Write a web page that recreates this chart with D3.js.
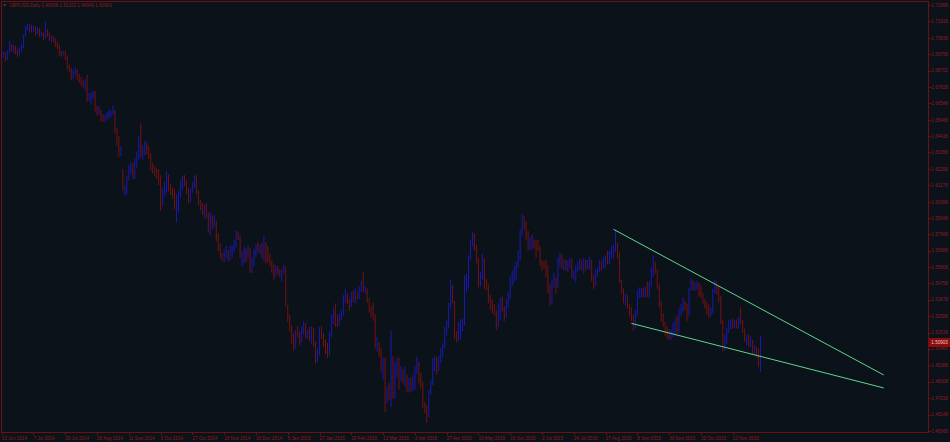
<!DOCTYPE html>
<html><head><meta charset="utf-8">
<script src="https://cdn.jsdelivr.net/npm/d3@7"></script>
<style>html,body{margin:0;padding:0;background:#0b121a;overflow:hidden}svg{display:block}</style>
</head><body>
<script>
// ---------- DATA (GBPUSD Daily, 13 Jun 2014 – 3 Dec 2015) ----------
const symbolTitle = "GBPUSD,Daily";
const legendValues = ["1.49598", "1.51322", "1.48946", "1.50903"];
const lastPrice = 1.50903;

const openP = [
1.6965,1.6970,1.6985,1.6960,1.6990,1.7035,1.7010,1.7020,1.6990,1.6985,
1.7010,1.7020,1.7100,1.7150,1.7160,1.7165,1.7150,1.7155,1.7130,1.7140,
1.7105,1.7110,1.7085,1.7120,1.7110,1.7080,1.7085,1.7065,1.7045,1.7030,
1.6980,1.6975,1.6990,1.6955,1.6895,1.6880,1.6830,1.6860,1.6875,1.6840,
1.6800,1.6780,1.6760,1.6795,1.6690,1.6695,1.6700,1.6725,1.6620,1.6600,
1.6605,1.6565,1.6555,1.6560,1.6585,1.6595,1.6600,1.6605,1.6480,1.6405,
1.6315,1.6200,1.6090,1.6105,1.6170,1.6240,1.6250,1.6215,1.6280,1.6300,
1.6400,1.6310,1.6350,1.6390,1.6350,1.6310,1.6235,1.6225,1.6210,1.6180,
1.6140,1.6050,1.6090,1.6120,1.6160,1.6105,1.6075,1.6070,1.5985,1.6010,
1.6070,1.6120,1.6160,1.6140,1.6075,1.6020,1.6085,1.6120,1.6165,1.6070,
1.6000,1.5995,1.5940,1.5980,1.5925,1.5840,1.5900,1.5860,1.5870,1.5765,
1.5710,1.5665,1.5640,1.5660,1.5680,1.5655,1.5660,1.5710,1.5745,1.5800,
1.5780,1.5645,1.5670,1.5690,1.5665,1.5700,1.5600,1.5630,1.5685,1.5720,
1.5705,1.5710,1.5665,1.5695,1.5690,1.5650,1.5610,1.5560,1.5530,1.5580,
1.5545,1.5530,1.5555,1.5580,1.5330,1.5250,1.5175,1.5105,1.5070,1.5150,
1.5140,1.5100,1.5180,1.5210,1.5140,1.5150,1.5120,1.5175,1.5075,1.4975,
1.5020,1.5175,1.5140,1.5075,1.5035,1.5025,1.5145,1.5245,1.5300,1.5240,
1.5220,1.5265,1.5280,1.5385,1.5390,1.5365,1.5350,1.5400,1.5395,1.5400,
1.5390,1.5445,1.5480,1.5435,1.5440,1.5370,1.5300,1.5270,1.5240,1.5065,
1.5070,1.5030,1.4915,1.4970,1.4725,1.4770,1.4760,1.4990,1.4740,1.4925,
1.4960,1.4850,1.4890,1.4870,1.4875,1.4790,1.4830,1.4785,1.4855,1.4900,
1.4950,1.4845,1.4820,1.4675,1.4635,1.4615,1.4765,1.4830,1.4950,1.4965,
1.4955,1.4970,1.5040,1.5060,1.5180,1.5205,1.5330,1.5370,1.5350,1.5145,
1.5120,1.5180,1.5190,1.5210,1.5460,1.5470,1.5645,1.5735,1.5750,1.5720,
1.5635,1.5470,1.5515,1.5630,1.5480,1.5460,1.5365,1.5330,1.5300,1.5285,
1.5200,1.5320,1.5345,1.5310,1.5290,1.5350,1.5395,1.5495,1.5530,1.5565,
1.5605,1.5670,1.5800,1.5875,1.5860,1.5790,1.5710,1.5740,1.5750,1.5740,
1.5735,1.5715,1.5610,1.5600,1.5595,1.5565,1.5430,1.5350,1.5475,1.5510,
1.5455,1.5615,1.5630,1.5600,1.5615,1.5585,1.5600,1.5605,1.5525,1.5530,
1.5580,1.5600,1.5620,1.5585,1.5610,1.5575,1.5600,1.5605,1.5500,1.5480,
1.5550,1.5560,1.5600,1.5585,1.5620,1.5640,1.5615,1.5665,1.5695,1.5700,
1.5720,1.5665,1.5490,1.5430,1.5360,1.5380,1.5325,1.5285,1.5250,1.5185,
1.5280,1.5400,1.5410,1.5425,1.5415,1.5435,1.5400,1.5475,1.5540,1.5610,
1.5560,1.5460,1.5345,1.5240,1.5210,1.5160,1.5130,1.5125,1.5160,1.5190,
1.5225,1.5160,1.5290,1.5310,1.5350,1.5330,1.5265,1.5435,1.5485,1.5450,
1.5465,1.5470,1.5420,1.5390,1.5355,1.5335,1.5300,1.5275,1.5290,1.5425,
1.5470,1.5430,1.5375,1.5230,1.5045,1.5120,1.5170,1.5200,1.5215,1.5205,
1.5215,1.5195,1.5245,1.5225,1.5170,1.5105,1.5120,1.5080,1.5095,1.5030,
1.5045,1.5020,1.4960];

const highP = [
1.6990,1.6995,1.6990,1.7005,1.7065,1.7045,1.7040,1.7035,1.7010,1.7020,
1.7040,1.7105,1.7160,1.7175,1.7180,1.7170,1.7165,1.7160,1.7155,1.7150,
1.7125,1.7120,1.7192,1.7140,1.7120,1.7100,1.7095,1.7080,1.7060,1.7040,
1.7000,1.7000,1.7000,1.6970,1.6910,1.6890,1.6875,1.6895,1.6880,1.6850,
1.6830,1.6805,1.6815,1.6842,1.6725,1.6725,1.6740,1.6735,1.6640,1.6635,
1.6615,1.6585,1.6580,1.6600,1.6615,1.6610,1.6640,1.6610,1.6495,1.6440,
1.6375,1.6225,1.6120,1.6180,1.6250,1.6270,1.6265,1.6295,1.6340,1.6440,
1.6525,1.6380,1.6410,1.6400,1.6375,1.6330,1.6265,1.6245,1.6230,1.6225,
1.6185,1.6100,1.6145,1.6210,1.6190,1.6130,1.6105,1.6095,1.6060,1.6080,
1.6150,1.6180,1.6185,1.6150,1.6100,1.6100,1.6140,1.6180,1.6190,1.6085,
1.6025,1.6005,1.5990,1.6000,1.5940,1.5945,1.5920,1.5925,1.5885,1.5805,
1.5735,1.5675,1.5700,1.5720,1.5695,1.5720,1.5725,1.5760,1.5825,1.5815,
1.5790,1.5690,1.5715,1.5705,1.5725,1.5710,1.5640,1.5700,1.5735,1.5745,
1.5730,1.5740,1.5785,1.5745,1.5720,1.5670,1.5630,1.5600,1.5595,1.5590,
1.5570,1.5565,1.5595,1.5585,1.5335,1.5270,1.5200,1.5150,1.5170,1.5195,
1.5160,1.5195,1.5230,1.5215,1.5170,1.5190,1.5195,1.5185,1.5095,1.5050,
1.5190,1.5195,1.5150,1.5110,1.5085,1.5160,1.5270,1.5320,1.5345,1.5270,
1.5280,1.5300,1.5400,1.5440,1.5410,1.5375,1.5420,1.5430,1.5445,1.5420,
1.5455,1.5495,1.5550,1.5460,1.5445,1.5380,1.5330,1.5350,1.5275,1.5125,
1.5090,1.5050,1.4990,1.4990,1.4800,1.4825,1.5165,1.5000,1.4965,1.4990,
1.4990,1.4935,1.4915,1.4930,1.4880,1.4855,1.4860,1.4875,1.4935,1.4995,
1.4960,1.4890,1.4835,1.4700,1.4680,1.4780,1.4845,1.4985,1.5000,1.4990,
1.5000,1.5050,1.5085,1.5190,1.5235,1.5350,1.5500,1.5465,1.5360,1.5165,
1.5225,1.5240,1.5250,1.5525,1.5540,1.5660,1.5760,1.5815,1.5805,1.5730,
1.5645,1.5550,1.5670,1.5640,1.5505,1.5470,1.5400,1.5370,1.5340,1.5300,
1.5345,1.5380,1.5390,1.5325,1.5370,1.5425,1.5520,1.5560,1.5590,1.5620,
1.5690,1.5830,1.5930,1.5915,1.5880,1.5820,1.5780,1.5795,1.5765,1.5760,
1.5760,1.5720,1.5630,1.5620,1.5630,1.5595,1.5470,1.5500,1.5545,1.5515,
1.5645,1.5675,1.5665,1.5635,1.5630,1.5625,1.5645,1.5640,1.5560,1.5595,
1.5620,1.5640,1.5630,1.5640,1.5630,1.5630,1.5650,1.5630,1.5530,1.5565,
1.5580,1.5630,1.5625,1.5650,1.5660,1.5690,1.5690,1.5720,1.5730,1.5830,
1.5740,1.5680,1.5500,1.5445,1.5410,1.5400,1.5340,1.5320,1.5270,1.5300,
1.5430,1.5450,1.5445,1.5450,1.5455,1.5490,1.5490,1.5580,1.5659,1.5615,
1.5570,1.5470,1.5360,1.5280,1.5225,1.5195,1.5175,1.5175,1.5220,1.5245,
1.5265,1.5310,1.5340,1.5385,1.5360,1.5345,1.5445,1.5508,1.5495,1.5485,
1.5490,1.5480,1.5465,1.5415,1.5375,1.5355,1.5335,1.5315,1.5440,1.5500,
1.5490,1.5460,1.5395,1.5240,1.5140,1.5185,1.5235,1.5235,1.5245,1.5235,
1.5240,1.5260,1.5320,1.5235,1.5180,1.5140,1.5140,1.5130,1.5105,1.5070,
1.5060,1.5050,1.5132];

const lowP = [
1.6925,1.6955,1.6930,1.6940,1.6985,1.6995,1.6985,1.6975,1.6960,1.6970,
1.6995,1.7015,1.7095,1.7135,1.7120,1.7120,1.7125,1.7100,1.7110,1.7090,
1.7095,1.7070,1.7080,1.7090,1.7065,1.7055,1.7055,1.7025,1.7010,1.6965,
1.6960,1.6970,1.6940,1.6880,1.6860,1.6810,1.6815,1.6835,1.6810,1.6790,
1.6770,1.6755,1.6740,1.6665,1.6670,1.6645,1.6685,1.6600,1.6575,1.6580,
1.6535,1.6535,1.6535,1.6545,1.6555,1.6565,1.6580,1.6460,1.6380,1.6305,
1.6310,1.6085,1.6050,1.6060,1.6150,1.6190,1.6160,1.6160,1.6235,1.6285,
1.6300,1.6285,1.6315,1.6320,1.6290,1.6215,1.6195,1.6180,1.6160,1.6120,
1.5950,1.5985,1.6045,1.6070,1.6080,1.6055,1.6030,1.5960,1.5875,1.5945,
1.6035,1.6090,1.6115,1.6060,1.6000,1.6010,1.6070,1.6100,1.6060,1.5990,
1.5955,1.5925,1.5900,1.5905,1.5810,1.5790,1.5830,1.5845,1.5750,1.5690,
1.5640,1.5620,1.5615,1.5640,1.5620,1.5625,1.5645,1.5680,1.5710,1.5760,
1.5640,1.5590,1.5610,1.5615,1.5640,1.5545,1.5545,1.5585,1.5650,1.5680,
1.5665,1.5640,1.5620,1.5605,1.5615,1.5590,1.5545,1.5500,1.5520,1.5535,
1.5515,1.5490,1.5540,1.5325,1.5225,1.5160,1.5080,1.5035,1.5050,1.5120,
1.5070,1.5090,1.5140,1.5115,1.5110,1.5100,1.5080,1.5060,1.4950,1.4960,
1.5005,1.5110,1.5060,1.5010,1.4985,1.5005,1.5125,1.5210,1.5190,1.5190,
1.5200,1.5235,1.5265,1.5350,1.5340,1.5295,1.5320,1.5355,1.5345,1.5370,
1.5375,1.5420,1.5420,1.5405,1.5350,1.5285,1.5255,1.5230,1.5050,1.5030,
1.4995,1.4900,1.4840,1.4633,1.4690,1.4710,1.4665,1.4720,1.4720,1.4860,
1.4780,1.4835,1.4820,1.4805,1.4765,1.4760,1.4765,1.4775,1.4775,1.4880,
1.4820,1.4785,1.4660,1.4625,1.4565,1.4600,1.4745,1.4810,1.4900,1.4875,
1.4900,1.4955,1.4990,1.5050,1.5135,1.5185,1.5310,1.5345,1.5110,1.5090,
1.5100,1.5110,1.5160,1.5200,1.5420,1.5440,1.5630,1.5715,1.5690,1.5605,
1.5450,1.5455,1.5500,1.5440,1.5430,1.5345,1.5300,1.5280,1.5265,1.5170,
1.5190,1.5240,1.5290,1.5230,1.5250,1.5315,1.5375,1.5460,1.5480,1.5500,
1.5580,1.5630,1.5790,1.5830,1.5760,1.5690,1.5690,1.5700,1.5705,1.5645,
1.5690,1.5590,1.5560,1.5570,1.5515,1.5410,1.5330,1.5340,1.5450,1.5405,
1.5445,1.5585,1.5570,1.5560,1.5560,1.5550,1.5580,1.5510,1.5500,1.5480,
1.5550,1.5565,1.5560,1.5540,1.5560,1.5570,1.5565,1.5490,1.5440,1.5460,
1.5520,1.5550,1.5560,1.5570,1.5580,1.5600,1.5600,1.5640,1.5640,1.5680,
1.5640,1.5480,1.5410,1.5345,1.5330,1.5310,1.5260,1.5230,1.5165,1.5180,
1.5260,1.5380,1.5380,1.5385,1.5385,1.5385,1.5380,1.5455,1.5520,1.5540,
1.5440,1.5320,1.5225,1.5190,1.5130,1.5110,1.5105,1.5107,1.5125,1.5140,
1.5140,1.5150,1.5265,1.5290,1.5300,1.5230,1.5260,1.5430,1.5430,1.5425,
1.5435,1.5390,1.5380,1.5340,1.5310,1.5270,1.5250,1.5260,1.5280,1.5410,
1.5400,1.5350,1.5210,1.5030,1.5035,1.5080,1.5150,1.5175,1.5180,1.5185,
1.5180,1.5180,1.5210,1.5150,1.5095,1.5070,1.5060,1.5060,1.5015,1.5010,
1.4990,1.4930,1.4895];

const closeP = [
1.6970,1.6985,1.6960,1.6990,1.7035,1.7010,1.7020,1.6990,1.6985,1.7010,
1.7020,1.7100,1.7150,1.7160,1.7165,1.7150,1.7155,1.7130,1.7140,1.7105,
1.7110,1.7085,1.7120,1.7110,1.7080,1.7085,1.7065,1.7045,1.7030,1.6980,
1.6975,1.6990,1.6955,1.6895,1.6880,1.6830,1.6860,1.6875,1.6840,1.6800,
1.6780,1.6760,1.6795,1.6690,1.6695,1.6700,1.6725,1.6620,1.6600,1.6605,
1.6565,1.6555,1.6560,1.6585,1.6595,1.6600,1.6605,1.6480,1.6405,1.6315,
1.6335,1.6090,1.6105,1.6170,1.6240,1.6250,1.6215,1.6280,1.6300,1.6400,
1.6310,1.6350,1.6390,1.6350,1.6310,1.6235,1.6225,1.6210,1.6180,1.6140,
1.6050,1.6090,1.6120,1.6160,1.6105,1.6075,1.6070,1.5985,1.6010,1.6070,
1.6120,1.6160,1.6140,1.6075,1.6020,1.6085,1.6120,1.6165,1.6070,1.6000,
1.5995,1.5940,1.5980,1.5925,1.5840,1.5900,1.5860,1.5870,1.5765,1.5710,
1.5665,1.5640,1.5660,1.5680,1.5655,1.5660,1.5710,1.5745,1.5800,1.5780,
1.5645,1.5670,1.5690,1.5665,1.5700,1.5600,1.5630,1.5685,1.5720,1.5705,
1.5710,1.5665,1.5695,1.5690,1.5650,1.5610,1.5560,1.5530,1.5580,1.5545,
1.5530,1.5555,1.5580,1.5330,1.5250,1.5175,1.5105,1.5070,1.5150,1.5140,
1.5100,1.5180,1.5210,1.5140,1.5150,1.5120,1.5175,1.5075,1.4975,1.5020,
1.5175,1.5140,1.5075,1.5035,1.5025,1.5145,1.5245,1.5300,1.5240,1.5220,
1.5265,1.5280,1.5385,1.5390,1.5365,1.5350,1.5400,1.5395,1.5400,1.5390,
1.5445,1.5480,1.5435,1.5440,1.5370,1.5300,1.5270,1.5240,1.5065,1.5070,
1.5030,1.4915,1.4970,1.4725,1.4770,1.4760,1.4990,1.4740,1.4925,1.4960,
1.4850,1.4890,1.4870,1.4875,1.4790,1.4830,1.4785,1.4855,1.4900,1.4950,
1.4845,1.4820,1.4675,1.4635,1.4615,1.4765,1.4830,1.4950,1.4965,1.4955,
1.4970,1.5040,1.5060,1.5180,1.5205,1.5330,1.5370,1.5350,1.5145,1.5120,
1.5180,1.5190,1.5210,1.5460,1.5470,1.5645,1.5735,1.5750,1.5720,1.5635,
1.5470,1.5515,1.5630,1.5480,1.5460,1.5365,1.5330,1.5300,1.5285,1.5200,
1.5320,1.5345,1.5310,1.5290,1.5350,1.5395,1.5495,1.5530,1.5565,1.5605,
1.5670,1.5800,1.5875,1.5860,1.5790,1.5710,1.5740,1.5750,1.5740,1.5735,
1.5715,1.5610,1.5600,1.5595,1.5565,1.5430,1.5350,1.5475,1.5510,1.5455,
1.5615,1.5630,1.5600,1.5615,1.5585,1.5600,1.5605,1.5525,1.5530,1.5580,
1.5600,1.5620,1.5585,1.5610,1.5575,1.5600,1.5605,1.5500,1.5480,1.5550,
1.5560,1.5600,1.5585,1.5620,1.5640,1.5615,1.5665,1.5695,1.5700,1.5720,
1.5665,1.5490,1.5430,1.5360,1.5380,1.5325,1.5285,1.5250,1.5185,1.5280,
1.5400,1.5410,1.5425,1.5415,1.5435,1.5400,1.5475,1.5540,1.5610,1.5560,
1.5460,1.5345,1.5240,1.5210,1.5160,1.5130,1.5125,1.5160,1.5190,1.5225,
1.5160,1.5290,1.5310,1.5350,1.5330,1.5265,1.5435,1.5485,1.5450,1.5465,
1.5470,1.5420,1.5390,1.5355,1.5335,1.5300,1.5275,1.5290,1.5425,1.5470,
1.5430,1.5375,1.5230,1.5045,1.5120,1.5170,1.5200,1.5215,1.5205,1.5215,
1.5195,1.5245,1.5225,1.5170,1.5105,1.5120,1.5080,1.5095,1.5030,1.5045,
1.5020,1.4960,1.5090];

// x-axis tick labels (bar index of each label)
const dateTickIndex = [0,16,32,48,64,80,96,112,128,144,160,176,192,208,224,240,256,272,288,304,320,336,352,368];
const dateTickLabels = ["13 Jun 2014","7 Jul 2014","29 Jul 2014","20 Aug 2014","11 Sep 2014","3 Oct 2014",
  "27 Oct 2014","18 Nov 2014","10 Dec 2014","5 Jan 2015","27 Jan 2015","18 Feb 2015","12 Mar 2015",
  "3 Apr 2015","27 Apr 2015","19 May 2015","10 Jun 2015","2 Jul 2015","24 Jul 2015","17 Aug 2015",
  "8 Sep 2015","30 Sep 2015","22 Oct 2015","13 Nov 2015"];

// y-axis tick labels
const priceTicks = [1.72998,1.71918,1.70838,1.69758,1.68702,1.67628,1.66548,1.65468,1.64418,
  1.63358,1.62258,1.61178,1.60098,1.59048,1.57968,1.56888,1.55808,1.54758,1.53678,1.52598,
  1.51518,1.50468,1.49388,1.48308,1.47218,1.46148,1.45068];

// hand-drawn trend lines: [bar index, price]
const upperTrend = [[308, 1.5830], [444, 1.4876]];
const lowerTrend = [[317, 1.5214], [444, 1.4791]];

// ---------- DRAWING ----------
const W = 950, H = 442;
const axisX = 928.5, axisY = 432.5;
const bg = "#0b121a", axisCol = "#6a1212", textCol = "#8e1c1c";
const bullCol = "#1a1ab0", bearCol = "#761212", trendCol = "#5ed68c";

const svg = d3.select("body").append("svg").attr("width", W).attr("height", H);
svg.append("rect").attr("width", W).attr("height", H).attr("fill", bg);

const x = d3.scaleLinear().domain([0, 368]).range([1.7, 732.7]);
const y = d3.scaleLinear().domain([priceTicks[priceTicks.length - 1], priceTicks[0]]).range([431.3, 5]);

const bars = d3.range(closeP.length).map(i => ({
  i, o: openP[i], h: highP[i], l: lowP[i], c: closeP[i]
}));

const plot = svg.append("g").attr("shape-rendering", "geometricPrecision");
const col = d => d.c >= d.o ? bullCol : bearCol;

plot.selectAll("rect.hl").data(bars).join("rect").attr("class", "hl")
  .attr("x", d => x(d.i) - 0.5).attr("width", 1)
  .attr("y", d => y(d.h))
  .attr("height", d => Math.max(1, y(d.l) - y(d.h)))
  .attr("fill", col);

// trend lines
[upperTrend, lowerTrend].forEach(t => {
  svg.append("line")
    .attr("x1", x(t[0][0])).attr("y1", y(t[0][1]))
    .attr("x2", x(t[1][0])).attr("y2", y(t[1][1]))
    .attr("stroke", trendCol).attr("stroke-width", 1);
});

// frame
const frame = svg.append("g").attr("shape-rendering", "crispEdges");
frame.append("path")
  .attr("d", `M1.5,${axisY}V1.5H${axisX}V${axisY}H1.5`)
  .attr("fill", "none").attr("stroke", axisCol).attr("stroke-width", 1);

// right price axis
const fontFam = "'Liberation Sans', Arial, sans-serif";
const yAxisG = svg.append("g");
priceTicks.forEach(v => {
  const yy = Math.round(y(v)) + 0.5;
  yAxisG.append("line").attr("x1", axisX).attr("x2", axisX + 2.5).attr("y1", yy).attr("y2", yy)
    .attr("stroke", axisCol).attr("shape-rendering", "crispEdges");
  yAxisG.append("text").attr("x", 931.3).attr("y", y(v)).attr("dy", "0.35em")
    .attr("font-family", fontFam).attr("font-size", 4.6).attr("fill", textCol)
    .text(v.toFixed(5));
});

// current price label
const cy = y(lastPrice);
svg.append("rect").attr("x", 929).attr("y", cy - 4.5).attr("width", 21).attr("height", 9)
  .attr("fill", "#8a0c0c").attr("shape-rendering", "crispEdges");
svg.append("text").attr("x", 931.3).attr("y", cy).attr("dy", "0.35em")
  .attr("font-family", fontFam).attr("font-size", 4.6).attr("fill", "#e8c8c8")
  .text(lastPrice.toFixed(5));

// bottom date axis
const xAxisG = svg.append("g");
dateTickIndex.forEach((idx, k) => {
  const xx = Math.round(x(idx)) + 0.5;
  xAxisG.append("line").attr("x1", xx).attr("x2", xx).attr("y1", axisY).attr("y2", axisY + 2.5)
    .attr("stroke", axisCol).attr("shape-rendering", "crispEdges");
  xAxisG.append("text").attr("x", x(idx)).attr("y", 439.6)
    .attr("font-family", fontFam).attr("font-size", 4.6).attr("fill", textCol)
    .text(dateTickLabels[k]);
});

// legend
svg.append("path").attr("d", "M3,4.3H6.4L4.7,6.6Z").attr("fill", "#9a1a1a");
svg.append("text").attr("x", 9.3).attr("y", 7.3)
  .attr("font-family", fontFam).attr("font-size", 4.6).attr("fill", textCol)
  .text(symbolTitle + "  " + legendValues.join(" "));
</script>
</body></html>
